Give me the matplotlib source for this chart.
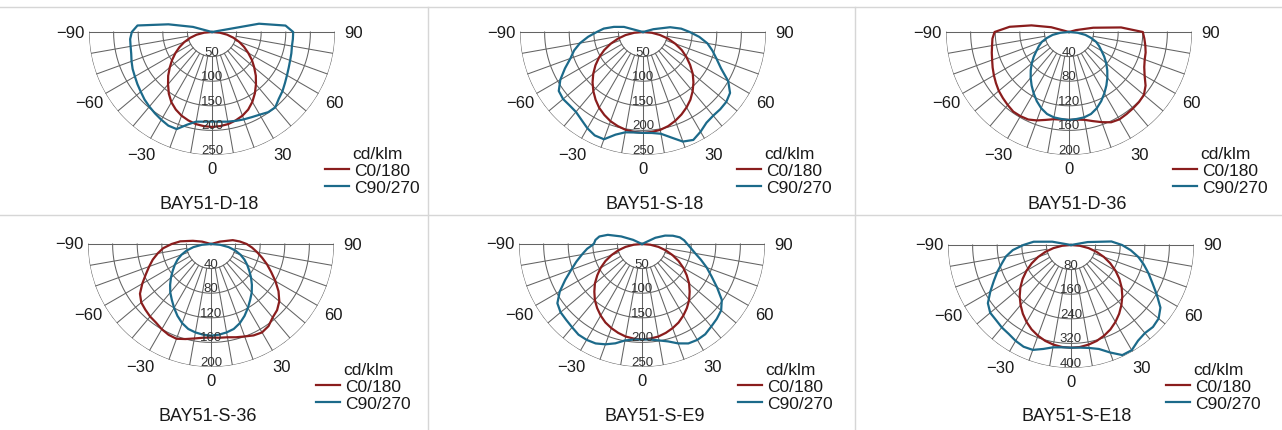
import matplotlib.pyplot as plt
from matplotlib.lines import Line2D
import numpy as np

plt.rcParams['font.family'] = ['Liberation Sans', 'DejaVu Sans']

# ---- data: luminous intensity in cd/klm, angle from nadir in degrees ----
angles = np.arange(-120, 121, 5)

names = ['BAY51-D-18', 'BAY51-S-18', 'BAY51-D-36',
         'BAY51-S-36', 'BAY51-S-E9', 'BAY51-S-E18']
ring_values = [[50, 100, 150, 200, 250],
               [50, 100, 150, 200, 250],
               [40, 80, 120, 160, 200],
               [40, 80, 120, 160, 200],
               [50, 100, 150, 200, 250],
               [80, 160, 240, 320, 400]]
angle_ticks = [-90, -60, -30, 0, 30, 60, 90]
series_names = ['C0/180', 'C90/270']
unit = 'cd/klm'

d18_c0 = [0, 0, 0, 0, 0, 0, 0,
          16, 32, 46, 60, 73, 86, 99, 112, 126, 139, 153, 165, 174, 181, 186, 190, 192,
          193,
          192, 190, 186, 181, 174, 164, 152, 139, 126, 112, 99, 85, 72, 59, 45, 31, 16,
          0, 0, 0, 0, 0, 0, 0]
d18_c90 = [0, 0, 0, 40, 90, 152, 163,
           167, 168, 170, 174, 178, 181, 185, 189, 194, 198, 202, 206, 210, 210, 195, 185, 183,
           182,
           183, 185, 187, 189, 191, 194, 199, 200, 192, 187, 181, 176, 172, 169, 167, 165, 165,
           165, 150, 97, 0, 0, 0, 0]

s18_c0 = [0, 0, 0, 0, 0, 0, 0,
          18, 36, 53, 70, 87, 103, 118, 132, 145, 157, 168, 178, 186, 193, 198, 202, 204,
          205,
          204, 202, 198, 192, 185, 177, 168, 157, 145, 132, 117, 102, 87, 70, 53, 35, 18,
          0, 0, 0, 0, 0, 0, 0]
s18_c90 = [0, 0, 0, 40, 60, 80, 94,
           112, 130, 145, 157, 175, 194, 209, 212, 211, 212, 218, 226, 232, 232, 216, 207, 205,
           205,
           206, 210, 222, 237, 242, 234, 225, 222, 222, 221, 216, 200, 175, 159, 146, 133, 115,
           95, 78, 56, 22, 0, 0, 0]

d36_c0 = [0, 0, 0, 30, 62, 97, 121,
          125, 127, 130, 133, 137, 141, 145, 149, 152, 155, 158, 158, 157, 153, 148, 144, 143,
          143,
          143, 145, 150, 156, 162, 164, 163, 162, 161, 159, 152, 142, 135, 131, 129, 126, 123,
          120, 85, 40, 12, 0, 0, 0]
d36_c90 = [0, 0, 0, 0, 0, 0, 0,
           14, 27, 37, 47, 54, 61, 70, 79, 88, 97, 106, 115, 124, 132, 138, 141, 142,
           143,
           142, 141, 138, 132, 124, 115, 106, 97, 88, 79, 70, 61, 54, 47, 37, 27, 14,
           0, 0, 0, 0, 0, 0, 0]

s36_c0 = [0, 0, 0, 15, 30, 50, 64,
          78, 88, 98, 107, 117, 129, 141, 148, 151, 154, 156, 160, 163, 164, 160, 156, 153,
          152,
          153, 154, 157, 160, 164, 166, 163, 156, 152, 145, 134, 121, 108, 97, 86, 76, 67,
          58, 47, 36, 15, 0, 0, 0]
s36_c90 = [0, 0, 0, 0, 0, 0, 0,
           15, 29, 41, 51, 60, 68, 76, 85, 94, 103, 111, 120, 129, 137, 143, 146, 148,
           149,
           148, 146, 143, 137, 129, 120, 111, 103, 94, 85, 76, 68, 60, 51, 41, 29, 15,
           0, 0, 0, 0, 0, 0, 0]

se9_c0 = [0, 0, 0, 0, 0, 0, 0,
          17, 34, 50, 66, 82, 97, 111, 125, 137, 149, 159, 168, 176, 182, 187, 191, 193,
          194,
          193, 191, 187, 182, 176, 168, 159, 149, 137, 125, 111, 97, 82, 66, 50, 34, 17,
          0, 0, 0, 0, 0, 0, 0]
se9_c90 = [0, 20, 45, 72, 88, 95, 98,
           112, 124, 138, 153, 172, 193, 210, 216, 218, 221, 225, 225, 223, 217, 209, 199, 195,
           194,
           195, 199, 205, 215, 223, 225, 224, 219, 215, 210, 198, 176, 156, 140, 124, 110, 100,
           92, 86, 78, 65, 50, 30, 0]

se18_c0 = [0, 0, 0, 0, 0, 0, 0,
           29, 58, 86, 114, 141, 167, 192, 215, 236, 255, 273, 289, 303, 314, 323, 329, 333,
           334,
           333, 329, 323, 314, 303, 289, 273, 255, 236, 215, 192, 167, 141, 114, 86, 58, 29,
           0, 0, 0, 0, 0, 0, 0]
se18_c90 = [0, 0, 0, 0, 62, 122, 155,
            190, 215, 233, 255, 277, 303, 330, 343, 345, 350, 353, 360, 365, 363, 350, 338, 334,
            334,
            335, 340, 350, 372, 395, 395, 380, 374, 377, 372, 355, 322, 292, 268, 245, 222, 195,
            166, 132, 55, 0, 0, 0, 0]

c0_curves = [d18_c0, s18_c0, d36_c0, s36_c0, se9_c0, se18_c0]
c90_curves = [d18_c90, s18_c90, d36_c90, s36_c90, se9_c90, se18_c90]

# ---- layout, in pixels of the 1282x431 picture ----
W, H = 1282, 431
R = 123
centers = [(212, 33), (643, 33), (1069, 33), (211, 245), (642, 245), (1071, 246)]
title_pos = [(209, 205), (655, 205), (1077, 205), (208, 417), (655, 417), (1077, 417)]
legend_left = [325, 737, 1173, 316, 738, 1166]
unit_y = [155, 155, 155, 371, 371, 371]

RED = '#8a1d1d'
BLUE = '#1c6a8a'
GRID = '#636363'
TEXT = '#1a1a1a'


def fx(x):
    return x / W


def fy(y):
    return 1 - y / H


fig = plt.figure(figsize=(W / 100, H / 100), dpi=100)

# panel separators
for y in (8, 216):
    fig.add_artist(Line2D([0, 1], [fy(y), fy(y)], transform=fig.transFigure,
                          color='#d6d6d6', lw=1))
for x in (428, 855):
    fig.add_artist(Line2D([fx(x), fx(x)], [0, fy(8)], transform=fig.transFigure,
                          color='#d6d6d6', lw=1))

arc = np.radians(np.linspace(-90, 90, 181))
theta = np.radians(angles)

for i in range(6):
    cx, cy = centers[i]
    ax = fig.add_axes([fx(cx - R), fy(cy + R), 2 * R / W, 2 * R / H],
                      projection='polar')
    ax.set_theta_zero_location('S')
    ax.set_theta_direction(1)
    rings = ring_values[i]
    step, rmax = rings[0], rings[-1]
    ax.set_ylim(0, rmax)
    ax.grid(False)
    ax.set_xticks([])
    ax.set_yticks([])
    ax.spines['polar'].set_visible(False)
    ax.patch.set_alpha(0)

    # grid
    for v in rings:
        ax.plot(arc, np.full_like(arc, v), color=GRID, lw=0.75)
    for a in range(-80, 81, 10):
        ax.plot(np.radians([a, a]), [step, rmax], color=GRID, lw=0.75)
    for a in (-90, 90):
        ax.plot(np.radians([a, a]), [0, rmax], color=GRID, lw=0.75)

    for v in rings:
        ax.text(0, v - 0.2 * step, str(v), ha='center', va='center',
                fontsize=9.5, color='#333333')
    for a in angle_ticks:
        rpos = 1.11 * rmax if a == 0 else 1.15 * rmax
        ax.text(np.radians(a), rpos, str(a).replace('-', '\u2212'),
                ha='center', va='center', fontsize=12, color=TEXT)

    h0, = ax.plot(theta, c0_curves[i], color=RED, lw=1.6, label=series_names[0])
    h1, = ax.plot(theta, c90_curves[i], color=BLUE, lw=1.6, label=series_names[1])

    ax.legend(handles=[h0, h1], loc='upper left',
              bbox_to_anchor=(fx(legend_left[i]), fy(unit_y[i] + 9)),
              bbox_transform=fig.transFigure, frameon=False, fontsize=12.5,
              handlelength=1.4, handletextpad=0.25, labelspacing=0.08,
              borderpad=0, borderaxespad=0, labelcolor=TEXT)
    fig.text(fx(legend_left[i] + 27), fy(unit_y[i]), unit,
             ha='left', va='center', fontsize=12.5, color=TEXT)

    tx, ty = title_pos[i]
    fig.text(fx(tx), fy(ty), names[i], ha='center', va='center',
             fontsize=13, color=TEXT)

fig.savefig('out.png', dpi=100)
